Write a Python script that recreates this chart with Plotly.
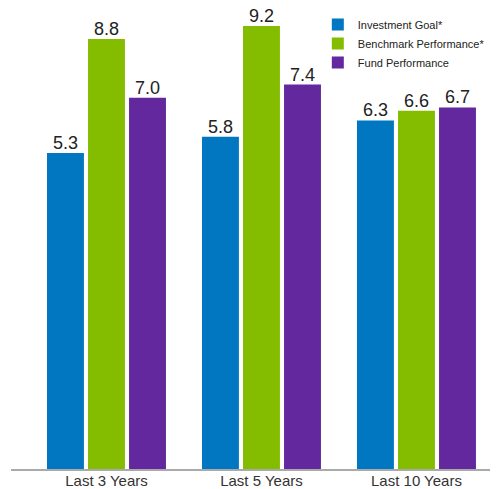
import plotly.graph_objects as go

categories = ["Last 3 Years", "Last 5 Years", "Last 10 Years"]
investment_goal = [5.3, 5.8, 6.3]
benchmark = [8.8, 9.2, 6.6]
fund = [7.0, 7.4, 6.7]
series_names = ["Investment Goal*", "Benchmark Performance*", "Fund Performance"]
colors = ["#0077c0", "#84bd00", "#63279e"]

y_min = -4.4
y_max = 9.69
bargap = 0.206

series = [investment_goal, benchmark, fund]
fig = go.Figure()
for name, vals, col in zip(series_names, series, colors):
    fig.add_trace(go.Bar(
        x=categories, y=[v - y_min for v in vals], base=y_min, name=name,
        marker=dict(color=col, line=dict(width=0)),
    ))

# value labels above each bar (positions follow the grouped-bar layout)
slot = (1 - bargap) / len(series)
for j, vals in enumerate(series):
    off = (j - (len(series) - 1) / 2) * slot
    for i, v in enumerate(vals):
        fig.add_annotation(x=i + off, y=v, xref="x", yref="y", text=f"{v:.1f}",
                           showarrow=False, yanchor="bottom", yshift=-1, borderpad=0,
                           font=dict(size=18, color="#222222", family="Liberation Sans, Arial"))

# page body has an 8px default margin, so the figure is shrunk by 8px
fig.update_layout(
    width=490, height=481,
    margin=dict(l=3, r=0, t=2, b=20, autoexpand=False),
    paper_bgcolor="white", plot_bgcolor="white",
    barmode="group", bargap=bargap, bargroupgap=0.1,
    font=dict(family="Liberation Sans, Arial", color="#333333"),
    legend=dict(x=0.63, y=1.0, xanchor="left", yanchor="top",
                font=dict(size=11, color="#222222"), bgcolor="rgba(0,0,0,0)",
                itemwidth=30, tracegroupgap=0),
    xaxis=dict(range=[-0.616, 2.526], showline=True, linecolor="#aaaaaa", linewidth=1.5,
               ticks="", ticklen=0, ticklabelstandoff=-3,
               tickfont=dict(size=15, color="#333333"), showgrid=False),
    yaxis=dict(range=[y_min, y_max], visible=False, showgrid=False, zeroline=False),
    showlegend=True,
)
fig.write_html("out.html")
